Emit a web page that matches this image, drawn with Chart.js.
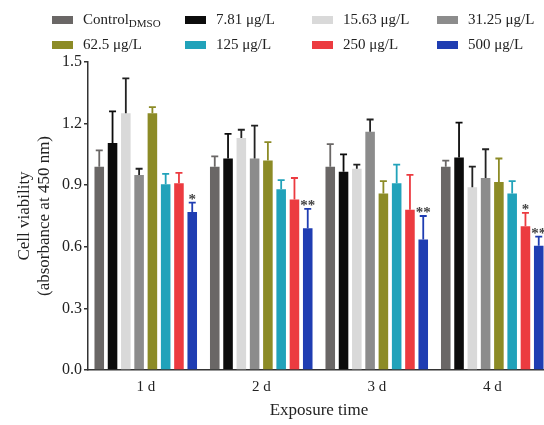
<!DOCTYPE html>
<html>
<head>
<meta charset="utf-8">
<script src="https://cdn.jsdelivr.net/npm/chart.js@4"></script>
<style>
  html, body { margin: 0; padding: 0; background: #fff; overflow: hidden; }
  #wrap { position: relative; width: 544px; height: 425px; overflow: hidden; }
  #box { position: absolute; left: 0; top: 0; width: 550px; height: 425px; }
  .lg { position: absolute; font-family: "Liberation Serif", serif; font-size: 15px; color: #222; white-space: nowrap; line-height: 16px; }
  .sw { position: absolute; width: 21px; height: 8px; }
  sub { font-size: 11px; vertical-align: -3px; line-height: 0; }
</style>
</head>
<body>
<div id="wrap">
  <div id="box"><canvas id="c" width="550" height="425"></canvas></div>
  <div id="legend"></div>
</div>
<script>
// ---- data ----
const categories = ['1 d', '2 d', '3 d', '4 d'];
const seriesLabels = ['Control<sub>DMSO</sub>', '7.81 μg/L', '15.63 μg/L', '31.25 μg/L', '62.5 μg/L', '125 μg/L', '250 μg/L', '500 μg/L'];
const controlDMSO = [0.99, 0.99, 0.99, 0.99];
const c781   = [1.105, 1.03, 0.965, 1.035];
const c1563  = [1.25, 1.13, 0.98, 0.89];
const c3125  = [0.95, 1.03, 1.16, 0.935];
const c625   = [1.25, 1.02, 0.86, 0.915];
const c125   = [0.905, 0.88, 0.91, 0.86];
const c250   = [0.91, 0.83, 0.78, 0.70];
const c500   = [0.77, 0.69, 0.635, 0.605];
// upper error (SD) values
const errControl = [0.08, 0.05, 0.11, 0.03];
const err781   = [0.155, 0.12, 0.085, 0.17];
const err1563  = [0.17, 0.04, 0.02, 0.10];
const err3125  = [0.03, 0.16, 0.06, 0.14];
const err625   = [0.03, 0.09, 0.06, 0.115];
const err125   = [0.05, 0.045, 0.09, 0.06];
const err250   = [0.05, 0.105, 0.17, 0.065];
const err500   = [0.045, 0.095, 0.115, 0.045];
const sig250 = ['', '', '', '*'];
const sig500 = ['*', '**', '**', '**'];
const yTicks = [0, 0.3, 0.6, 0.9, 1.2, 1.5];
const yTickLabels = ['0.0', '0.3', '0.6', '0.9', '1.2', '1.5'];

const colors = ['#6a6766', '#0c0c0c', '#d9d9d9', '#8c8c8c', '#8c8b26', '#21a2ba', '#ec3b40', '#1f3db2'];
const errColors = ['#6a6766', '#0c0c0c', '#222222', '#222222', '#8c8b26', '#21a2ba', '#ec3b40', '#1f3db2'];
const values = [controlDMSO, c781, c1563, c3125, c625, c125, c250, c500];
const errors = [errControl, err781, err1563, err3125, err625, err125, err250, err500];
const sigs = [null, null, null, null, null, null, sig250, sig500];

const FONT = '"Liberation Serif", serif';

// ---- HTML legend ----
const legendPos = [
  [52, 20], [185, 20], [312, 20], [437, 20],
  [52, 45], [185, 45], [312, 45], [437, 45]
];
const lg = document.getElementById('legend');
seriesLabels.forEach((t, i) => {
  const [x, y] = legendPos[i];
  const sw = document.createElement('div');
  sw.className = 'sw';
  sw.style.left = x + 'px';
  sw.style.top = (y - 4) + 'px';
  sw.style.background = colors[i];
  lg.appendChild(sw);
  const tx = document.createElement('div');
  tx.className = 'lg';
  tx.style.left = (x + 31) + 'px';
  tx.style.top = (y - 9) + 'px';
  tx.innerHTML = t;
  lg.appendChild(tx);
});

// ---- error bar + significance plugin ----
const errPlugin = {
  id: 'errbars',
  afterDatasetsDraw(chart) {
    const ctx = chart.ctx;
    const y = chart.scales.y;
    chart.data.datasets.forEach((ds, di) => {
      const meta = chart.getDatasetMeta(di);
      meta.data.forEach((bar, i) => {
        const v = ds.data[i];
        const top = y.getPixelForValue(v + errors[di][i]);
        const base = y.getPixelForValue(v);
        ctx.save();
        ctx.strokeStyle = errColors[di];
        ctx.lineWidth = 1.8;
        ctx.beginPath();
        ctx.moveTo(bar.x, base);
        ctx.lineTo(bar.x, top);
        ctx.moveTo(bar.x - 3.5, top);
        ctx.lineTo(bar.x + 3.5, top);
        ctx.stroke();
        const s = sigs[di] ? sigs[di][i] : '';
        if (s) {
          ctx.fillStyle = '#444';
          ctx.font = 'bold 15px ' + FONT;
          ctx.textAlign = 'center';
          ctx.textBaseline = 'alphabetic';
          ctx.fillText(s, bar.x, top + 1);
        }
        ctx.restore();
      });
    });
  }
};

new Chart(document.getElementById('c'), {
  type: 'bar',
  data: {
    labels: categories,
    datasets: values.map((d, i) => ({
      label: seriesLabels[i],
      data: d,
      backgroundColor: colors[i],
      borderWidth: 0,
      categoryPercentage: 0.92,
      barPercentage: 0.72
    }))
  },
  options: {
    responsive: false,
    animation: false,
    devicePixelRatio: 1,
    layout: { padding: { top: 62, left: 0, right: 0, bottom: 0 } },
    plugins: { legend: { display: false }, tooltip: { enabled: false } },
    scales: {
      x: {
        grid: { display: false },
        border: { display: true, color: '#333', width: 1.5 },
        ticks: { color: '#222', font: { family: FONT, size: 15 }, padding: 0 },
        title: { display: true, text: 'Exposure time', color: '#222', font: { family: FONT, size: 17 }, padding: { top: 4 } },
        afterFit(s) { s.height = 55; }
      },
      y: {
        min: 0, max: 1.5,
        afterBuildTicks(s) { s.ticks = yTicks.map(v => ({ value: v })); },
        grid: { display: true, drawOnChartArea: false, drawTicks: true, tickLength: 4, color: '#333', lineWidth: 1.5 },
        border: { display: true, color: '#333', width: 1.5 },
        ticks: {
          color: '#222', font: { family: FONT, size: 16 }, padding: 2,
          callback: (v, i) => yTickLabels[i]
        },
        title: { display: true, text: ['Cell viability', '(absorbance at 450 nm)'], color: '#222', font: { family: FONT, size: 17, lineHeight: 1.15 }, padding: { top: 15, bottom: 0 } },
        afterFit(s) { s.width = 88; }
      }
    }
  },
  plugins: [errPlugin]
});
</script>
</body>
</html>
